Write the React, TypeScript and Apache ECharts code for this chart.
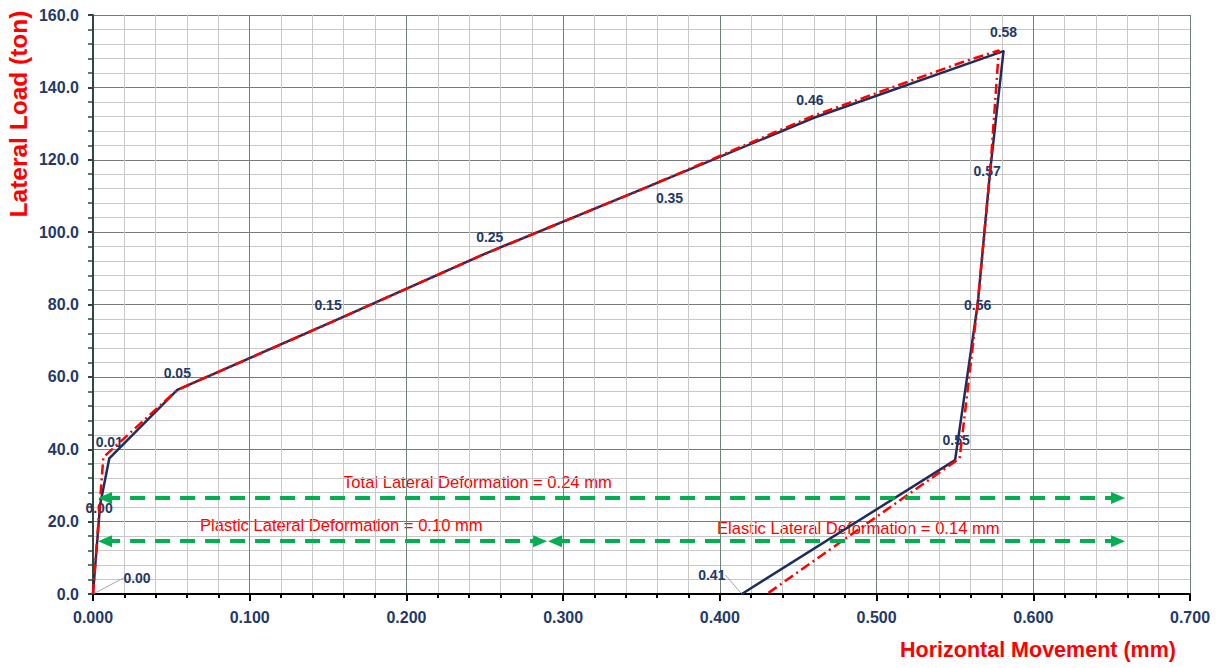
import React, { useEffect, useRef } from "react";
import * as echarts from "echarts";

// ---- data ----
const movementMeasured = [0, 0.0045, 0.0104, 0.0538, 0.15, 0.25, 0.35, 0.46, 0.581, 0.5725, 0.5645, 0.5501, 0.414];
const loadMeasured = [0, 24.5, 37.5, 56.4, 74.7, 94.0, 111.8, 131.6, 150.0, 117.0, 80.0, 37.0, 0];

const movementIdeal = [0, 0.0035, 0.0066, 0.0538, 0.15, 0.25, 0.35, 0.46, 0.555, 0.578, 0.5725, 0.5645, 0.553, 0.43];
const loadIdeal = [0, 20.0, 37.8, 56.4, 74.7, 94.0, 111.8, 132.2, 147.0, 150.2, 117.0, 80.0, 37.5, 0];

const arrowLoad = [26.5, 14.6, 14.6];
const arrowStart = [0.0077, 0.0077, 0.2948];
const arrowEnd = [0.6541, 0.2853, 0.6541];

const annotationTexts = [
  "Total Lateral Deformation = 0.24 mm",
  "Plastic Lateral Deformation = 0.10 mm",
  "Elastic Lateral Deformation = 0.14 mm",
];

const xAxisTitle = "Horizontal Movement (mm)";
const yAxisTitle = "Lateral Load (ton)";

const xMin = 0, xMax = 0.7, xStep = 0.1;
const yMin = 0, yMax = 160, yStep = 20;

// ---- styles ----
const FONT = 'Arial, "Liberation Sans", sans-serif';
const NAVY = "#1F3A68";
const RED = "#FF0000";
const GREEN = "#00B050";
const LINE_BLUE = "#1F2D5C";

// label placement per measured point (style only): position + shift; guide => leader line
const labelPlacement: { position: string; shift: number[]; guide?: boolean }[] = [
  { position: "inside", shift: [44, -16], guide: true },
  { position: "inside", shift: [-1, 3] },
  { position: "top", shift: [0, -3] },
  { position: "top", shift: [0, -4] },
  { position: "top", shift: [0, -6] },
  { position: "top", shift: [5, -4] },
  { position: "inside", shift: [28, 9] },
  { position: "top", shift: [-4, -5] },
  { position: "top", shift: [0, -6] },
  { position: "inside", shift: [-3, 0] },
  { position: "inside", shift: [0, 0] },
  { position: "top", shift: [1, -7] },
  { position: "inside", shift: [-30, -19], guide: true },
];

export default function App() {
  const ref = useRef<HTMLDivElement>(null);

  useEffect(() => {
    if (!ref.current) return;
    const chart = echarts.init(ref.current, undefined, { renderer: "svg" });

    const measuredData = movementMeasured.map((x, i) => {
      const p = labelPlacement[i];
      const item: any = {
        value: [x, loadMeasured[i]],
        label: { show: true, position: p.position },
      };
      if (p.guide) {
        item.labelLine = { show: true, lineStyle: { color: "#A6A6A6", width: 1 } };
      }
      return item;
    });
    const idealData = movementIdeal.map((x, i) => [x, loadIdeal[i]]);

    const arrows = arrowLoad.map((y, i) => [
      { coord: [arrowStart[i], y] },
      { coord: [arrowEnd[i], y] },
    ]);

    chart.setOption({
      animation: false,
      grid: { left: 93, right: 33, top: 15, bottom: 74 },
      xAxis: {
        type: "value",
        min: xMin,
        max: xMax,
        interval: xStep,
        axisLine: { show: true, onZero: false, lineStyle: { color: "#000", width: 2 } },
        axisTick: { show: true, length: 7, lineStyle: { color: "#000", width: 2 } },
        minorTick: { show: true, splitNumber: 5, length: 4, lineStyle: { color: "#000", width: 2 } },
        axisLabel: {
          formatter: (v: number) => v.toFixed(3),
          color: NAVY,
          fontWeight: "bold",
          fontSize: 16,
          fontFamily: FONT,
          margin: 15,
        },
        splitLine: { show: true, lineStyle: { color: "#6E8276", width: 1 } },
        minorSplitLine: { show: true, lineStyle: { color: "#C8C8C8", width: 1 } },
      },
      yAxis: {
        type: "value",
        min: yMin,
        max: yMax,
        interval: yStep,
        axisLine: { show: true, onZero: false, lineStyle: { color: "#2E4A3E", width: 2 } },
        axisTick: { show: true, length: 5, inside: false, lineStyle: { color: "#2E4A3E", width: 2 } },
        minorTick: { show: true, splitNumber: 5, length: 5, lineStyle: { color: "#2E4A3E", width: 1.5 } },
        axisLabel: {
          formatter: (v: number) => v.toFixed(1),
          color: NAVY,
          fontWeight: "bold",
          fontSize: 16,
          fontFamily: FONT,
          margin: 14,
        },
        splitLine: { show: true, lineStyle: { color: "#7A7A7A", width: 1 } },
        minorSplitLine: { show: true, lineStyle: { color: "#C8C8C8", width: 1 } },
      },
      series: [
        {
          type: "line",
          name: "measured",
          data: measuredData,
          symbol: "circle",
          symbolSize: 2,
          showSymbol: true,
          itemStyle: { color: LINE_BLUE },
          lineStyle: { color: LINE_BLUE, width: 2.5 },
          label: {
            show: true,
            formatter: (p: any) => Number(p.value[0]).toFixed(2),
            color: NAVY,
            fontWeight: "bold",
            fontSize: 14,
            fontFamily: FONT,
          },
          labelLayout: (params: any) => {
            const p = labelPlacement[params.dataIndex];
            if (!p) return {};
            return { dx: p.shift[0], dy: p.shift[1] };
          },
          z: 2,
        },
        {
          type: "line",
          name: "ideal",
          data: idealData,
          symbol: "none",
          showSymbol: false,
          lineStyle: { color: RED, width: 2.5, type: [10, 4, 2, 4] },
          z: 3,
          markLine: {
            silent: true,
            symbol: ["triangle", "triangle"],
            symbolSize: [12, 14],
            label: { show: false },
            lineStyle: { color: GREEN, width: 4, type: [15, 10] },
            data: arrows,
          },
        },
      ],
      graphic: [
        {
          type: "text",
          x: 18,
          y: 114,
          rotation: Math.PI / 2,
          style: {
            text: yAxisTitle,
            fill: RED,
            font: `bold 24.5px ${FONT}`,
            textAlign: "center",
            textVerticalAlign: "middle",
          },
        },
        {
          type: "text",
          x: 1038,
          y: 650,
          style: {
            text: xAxisTitle,
            fill: RED,
            font: `bold 21.5px ${FONT}`,
            textAlign: "center",
            textVerticalAlign: "middle",
          },
        },
        {
          type: "text",
          x: 343,
          y: 482,
          style: { text: annotationTexts[0], fill: RED, font: `16.6px ${FONT}`, textAlign: "left", textVerticalAlign: "middle" },
        },
        {
          type: "text",
          x: 200,
          y: 525,
          style: { text: annotationTexts[1], fill: RED, font: `16.6px ${FONT}`, textAlign: "left", textVerticalAlign: "middle" },
        },
        {
          type: "text",
          x: 717,
          y: 528,
          style: { text: annotationTexts[2], fill: RED, font: `16.6px ${FONT}`, textAlign: "left", textVerticalAlign: "middle" },
        },
      ],
    });

    return () => chart.dispose();
  }, []);

  return (
    <div
      ref={ref}
      style={{ position: "absolute", left: 0, top: 0, width: 1223, height: 668, background: "#fff" }}
    />
  );
}
